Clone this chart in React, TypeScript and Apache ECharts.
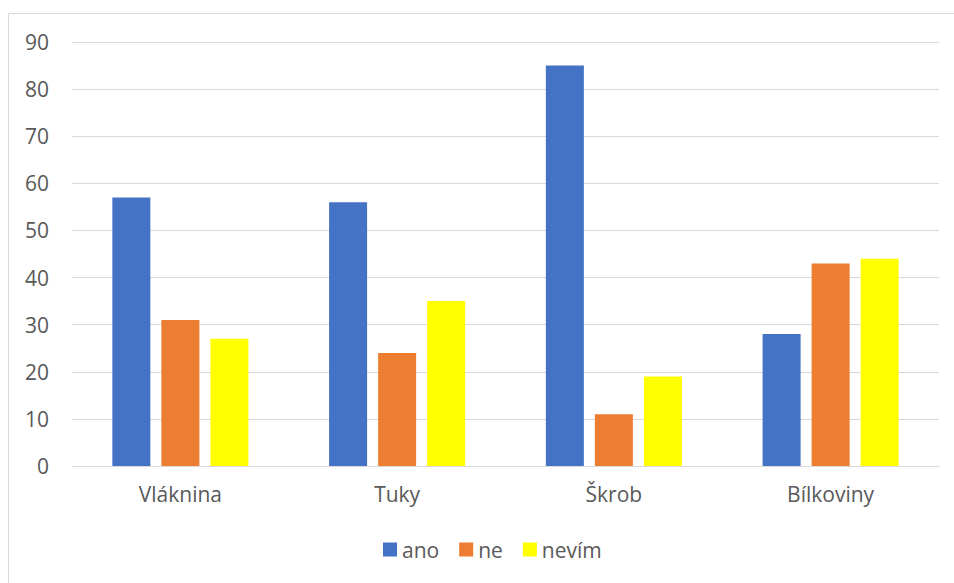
import React, { useEffect, useRef } from "react";
import * as echarts from "echarts";

const categories = ["Vláknina", "Tuky", "Škrob", "Bílkoviny"];
const ano = [57, 56, 85, 28];
const ne = [31, 24, 11, 43];
const nevim = [27, 35, 19, 44];
const seriesNames = ["ano", "ne", "nevím"];
const colors = ["#4472c4", "#ed7d31", "#ffff00"];

const FONT = "'Open Sans', 'Noto Sans', sans-serif";
const TEXT_COLOR = "#595959";

export default function App() {
  const ref = useRef<HTMLDivElement>(null);

  useEffect(() => {
    if (!ref.current) return;
    const chart = echarts.init(ref.current, undefined, { renderer: "svg" });
    const values = [ano, ne, nevim];
    chart.setOption({
      animation: false,
      backgroundColor: "#ffffff",
      textStyle: { fontFamily: FONT },
      graphic: [
        {
          type: "rect",
          shape: { x: 8.5, y: 13.5, width: 960, height: 600 },
          style: { fill: "none", stroke: "#d9d9d9", lineWidth: 1 },
          silent: true,
        },
      ],
      grid: { left: 72, right: 15, top: 42, bottom: 117 },
      legend: {
        top: 539,
        left: 383,
        padding: 0,
        itemWidth: 14,
        itemHeight: 14,
        itemGap: 20,
        icon: "rect",
        textStyle: { color: TEXT_COLOR, fontSize: 21, fontFamily: FONT },
        data: seriesNames,
      },
      xAxis: {
        type: "category",
        data: categories,
        axisTick: { show: false },
        axisLine: { lineStyle: { color: "#d9d9d9", width: 1 } },
        axisLabel: { color: TEXT_COLOR, fontSize: 21, margin: 17, fontFamily: FONT },
      },
      yAxis: {
        type: "value",
        min: 0,
        max: 90,
        interval: 10,
        axisLine: { show: false },
        axisTick: { show: false },
        splitLine: { lineStyle: { color: "#d9d9d9", width: 1 } },
        axisLabel: { color: TEXT_COLOR, fontSize: 21, margin: 23, fontFamily: FONT },
      },
      series: seriesNames.map((name, i) => ({
        name,
        type: "bar",
        data: values[i],
        barWidth: 38,
        barGap: "29%",
        itemStyle: { color: colors[i] },
      })),
    });
    return () => chart.dispose();
  }, []);

  return (
    <div
      ref={ref}
      style={{ position: "fixed", left: 0, top: 0, width: 954, height: 583 }}
    />
  );
}
